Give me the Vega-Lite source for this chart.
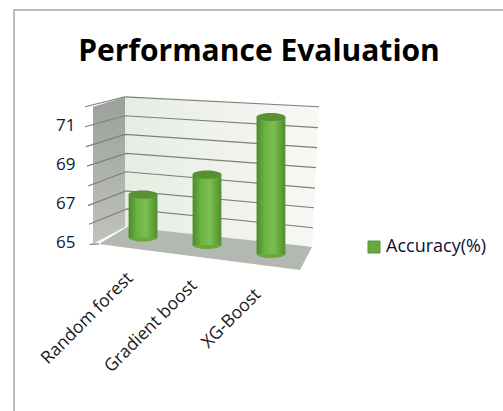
{
"$schema":"https://vega.github.io/schema/vega-lite/v6.json",
"width":238,"height":174,
"autosize":{"type":"none"},
"padding":{"left":88,"top":96,"right":177,"bottom":141},
"background":"white",
"view":{"stroke":null},
"config":{"axis":{"labelOverlap":false,"labelBound":false,"labelSeparation":0}},
"title":{"text":"Performance Evaluation","font":"Open Sans","fontSize":30,"fontWeight":"bold","color":"#000000","anchor":"middle","frame":"group","dx":52,"offset":0,"dy":60},
"datasets":{
"acc":[
{"model":"Random forest","accuracy":67.47,"floor":65.28,"series":"Accuracy(%)"},
{"model":"Gradient boost","accuracy":68.49,"floor":64.9,"series":"Accuracy(%)"},
{"model":"XG-Boost","accuracy":71.44,"floor":64.44,"series":"Accuracy(%)"}
],
"leftWall":[{"d":5,"up":71.96,"lo":64.95},{"d":37,"up":72.46,"lo":65.82}],
"backWall":[{"d":37,"up":72.46,"lo":65.82},{"d":224,"up":71.96,"lo":64.8},{"d":231,"up":71.95,"lo":71.95}],
"floorPlane":[{"d":11,"up":64.95,"lo":64.95},{"d":39,"up":65.82,"lo":64.76},{"d":212,"up":64.87,"lo":63.62},{"d":224,"up":64.8,"lo":64.8}],
"grid":[
{"g":"72","d":-3,"v":71.96},{"g":"72","d":37,"v":72.47},{"g":"72","d":231,"v":71.96},
{"g":"71","d":-3,"v":70.94},{"g":"71","d":37,"v":71.5},{"g":"71","d":230,"v":70.89},
{"g":"70","d":-2,"v":69.92},{"g":"70","d":37,"v":70.55},{"g":"70","d":229,"v":69.87},
{"g":"69","d":-1,"v":68.93},{"g":"69","d":38,"v":69.58},{"g":"69","d":228,"v":68.85},
{"g":"68","d":0,"v":67.91},{"g":"68","d":38,"v":68.64},{"g":"68","d":227,"v":67.8},
{"g":"67","d":0,"v":66.91},{"g":"67","d":38,"v":67.66},{"g":"67","d":226,"v":66.8},
{"g":"66","d":1,"v":65.96},{"g":"66","d":39,"v":66.74},{"g":"66","d":225,"v":65.78},
{"g":"65","d":2,"v":64.93},{"g":"65","d":11,"v":64.95}
],
"frame":[{"d":-74,"v":56.0},{"d":-74,"v":76.9},{"d":415,"v":76.9}]
},
"layer":[
{"data":{"name":"leftWall"},"mark":{"type":"area","color":{"x1":0,"y1":0,"x2":0,"y2":1,"gradient":"linear","stops":[{"offset":0,"color":"#9ca09b"},{"offset":1,"color":"#bfc2bd"}]}},
"encoding":{"x":{"field":"d","type":"quantitative","axis":null,"scale":{"domain":[0,238],"nice":false,"zero":false}},"y":{"field":"up","type":"quantitative","axis":{"values":[65,66,67,68,69,70,71,72],"domain":false,"grid":false,"ticks":false,"title":null,"labelFont":"Open Sans","labelFontSize":17,"labelColor":"#0a1a33","labelPadding":13,"labelOverlap":false,"format":"d"},"scale":{"domain":[63.62,72.51],"nice":false,"zero":false}},"y2":{"field":"lo"}}},
{"data":{"name":"backWall"},"mark":{"type":"area","color":{"x1":0,"y1":0,"x2":1,"y2":0,"gradient":"linear","stops":[{"offset":0,"color":"#e7ede3"},{"offset":1,"color":"#f6f8f4"}]}},
"encoding":{"x":{"field":"d","type":"quantitative","axis":null,"scale":{"domain":[0,238],"nice":false,"zero":false}},"y":{"field":"up","type":"quantitative"},"y2":{"field":"lo"}}},
{"data":{"name":"floorPlane"},"mark":{"type":"area","color":"#b3b8b1"},
"encoding":{"x":{"field":"d","type":"quantitative","axis":null,"scale":{"domain":[0,238],"nice":false,"zero":false}},"y":{"field":"up","type":"quantitative"},"y2":{"field":"lo"}}},
{"data":{"name":"grid"},"mark":{"type":"line","color":"#7f7f7f","strokeWidth":1.2},
"encoding":{"x":{"field":"d","type":"quantitative","axis":null,"scale":{"domain":[0,238],"nice":false,"zero":false}},"y":{"field":"v","type":"quantitative"},"detail":{"field":"g"}}},
{"data":{"name":"frame"},"mark":{"type":"line","color":"#a6a6a6","strokeWidth":1.5,"clip":false},
"encoding":{"x":{"field":"d","type":"quantitative","axis":null,"scale":{"domain":[0,238],"nice":false,"zero":false}},"y":{"field":"v","type":"quantitative"},"order":{"field":"d"}}},
{"data":{"name":"acc"},"mark":{"type":"point","filled":true,"opacity":1,"shape":"M-1,0A1,0.28,0,1,1,1,0A1,0.28,0,1,1,-1,0Z","size":841},
"encoding":{"x":{"field":"model","type":"nominal","sort":null,"axis":null,"scale":{"type":"band","paddingInner":0.55,"paddingOuter":0.635}},"y":{"field":"floor","type":"quantitative"},
"color":{"field":"series","type":"nominal","scale":{"range":["#68a83c"]},"legend":{"title":null,"orient":"none","legendX":277,"legendY":142,"symbolType":"square","symbolSize":144,"symbolStrokeColor":"#5a9236","symbolStrokeWidth":1,"labelFont":"Open Sans","labelFontSize":18,"labelColor":"#101030","labelOffset":3}}}},
{"data":{"name":"acc"},"mark":{"type":"bar","color":{"x1":0,"y1":0,"x2":1,"y2":0,"gradient":"linear","stops":[{"offset":0,"color":"#4b8b2a"},{"offset":0.3,"color":"#6cb343"},{"offset":0.6,"color":"#7abf4f"},{"offset":1,"color":"#4f8f2e"}]}},
"encoding":{"x":{"field":"model","type":"nominal","sort":null,"axis":null,"scale":{"type":"band","paddingInner":0.55,"paddingOuter":0.635}},"y":{"field":"accuracy","type":"quantitative"},"y2":{"field":"floor"}}},
{"data":{"name":"acc"},"mark":{"type":"point","filled":true,"opacity":1,"color":"#5b8f35","shape":"M-1,0A1,0.28,0,1,1,1,0A1,0.28,0,1,1,-1,0Z","size":841},
"encoding":{"x":{"field":"model","type":"nominal","sort":null,"axis":null,"scale":{"type":"band","paddingInner":0.55,"paddingOuter":0.635}},"y":{"field":"accuracy","type":"quantitative"}}},
{"data":{"name":"acc"},"mark":{"type":"text","angle":315,"align":"right","baseline":"middle","dx":-36,"dy":18,"font":"Open Sans","fontSize":17.5,"color":"#1a1a1a"},
"encoding":{"x":{"field":"model","type":"nominal","sort":null,"axis":null,"scale":{"type":"band","paddingInner":0.55,"paddingOuter":0.635}},"y":{"field":"floor","type":"quantitative"},"text":{"field":"model"}}}
],
"resolve":{"scale":{"x":"independent","color":"independent"}}
}
